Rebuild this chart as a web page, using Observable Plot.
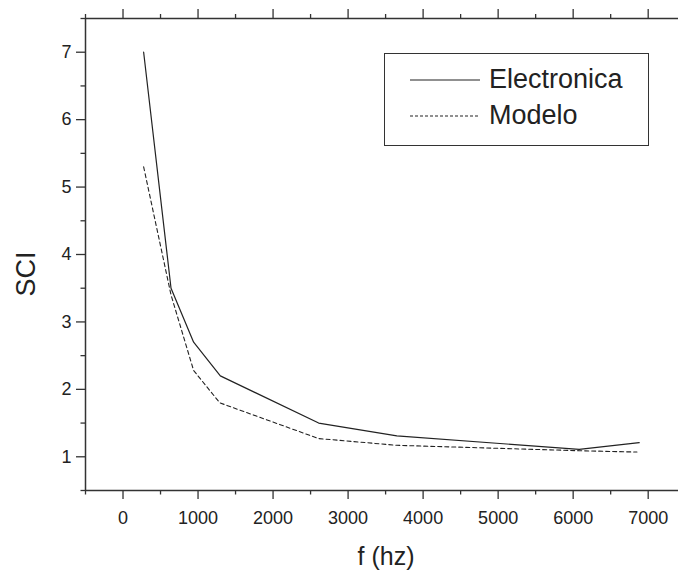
<!DOCTYPE html>
<html>
<head>
<meta charset="utf-8">
<script src="https://cdn.jsdelivr.net/npm/d3@7"></script>
<script src="https://cdn.jsdelivr.net/npm/@observablehq/plot@0.6"></script>
<style>
  html, body { margin: 0; padding: 0; background: #fff; overflow: hidden; }
  #wrap { position: relative; width: 678px; height: 570px; font-family: "Liberation Sans", Arial, Helvetica, sans-serif; }
  #legend { position: absolute; left: 384px; top: 53px; width: 263px; height: 91px; border: 1.5px solid #333; background: #fff; }
  .row { position: absolute; left: 0; display: flex; align-items: center; font-size: 27px; color: #222; }
  .row svg { margin-left: 25px; margin-right: 9px; }
  #ylabel { position: absolute; left: 26px; top: 274px; font-size: 27px; color: #222; line-height: 1; white-space: nowrap;
            transform: translate(-50%, -50%) rotate(-90deg); }
</style>
</head>
<body>
<div id="wrap"></div>
<script>
// ---- data ----
const seriesNames = ["Electronica", "Modelo"];
const freqElectronica = [275, 640, 941, 1297, 2608, 3650, 6080, 6880];
const sciElectronica  = [7.0, 3.5, 2.7, 2.2, 1.5, 1.31, 1.11, 1.21];
const freqModelo = [275, 640, 941, 1290, 2608, 3650, 6080, 6850];
const sciModelo  = [5.3, 3.4, 2.28, 1.8, 1.27, 1.17, 1.09, 1.07];

// ---- axis ticks ----
const xDomain = [-500, 7404];
const yDomain = [0.5, 7.5];
const xMajor = [0, 1000, 2000, 3000, 4000, 5000, 6000, 7000];
const xMinor = [-500, 500, 1500, 2500, 3500, 4500, 5500, 6500];
const yMajor = [1, 2, 3, 4, 5, 6, 7];
const yMinor = [0.5, 1.5, 2.5, 3.5, 4.5, 5.5, 6.5, 7.5];
const xLabel = "f (hz)";
const yLabel = "SCI";

const elec = freqElectronica.map((f, i) => ({f, sci: sciElectronica[i]}));
const mod = freqModelo.map((f, i) => ({f, sci: sciModelo[i]}));

const axisColor = "#333";
const lineColor = "#222";
const blank = () => "";

const chart = Plot.plot({
  width: 678,
  height: 570,
  marginLeft: 85,
  marginRight: 0,
  marginTop: 18,
  marginBottom: 80,
  style: {fontFamily: '"Liberation Sans", Arial, Helvetica, sans-serif', color: "#222", background: "#fff"},
  x: {domain: xDomain, label: null},
  y: {domain: yDomain, label: null},
  marks: [
    // axis lines (left, top, bottom)
    Plot.ruleX([xDomain[0]], {stroke: axisColor, strokeWidth: 1.5}),
    Plot.ruleY([yDomain[0]], {stroke: axisColor, strokeWidth: 1.5}),
    Plot.ruleY([yDomain[1]], {stroke: axisColor, strokeWidth: 1.5}),
    // bottom axis
    Plot.axisX({anchor: "bottom", ticks: xMajor, tickSize: 9, tickPadding: 12, fontSize: 18, stroke: axisColor, strokeWidth: 1.3, label: null, tickFormat: d => String(d)}),
    Plot.axisX({anchor: "bottom", ticks: xMinor, tickSize: 4.5, tickFormat: blank, stroke: axisColor, strokeWidth: 1.3, label: null}),
    // top axis
    Plot.axisX({anchor: "top", ticks: xMajor, tickSize: 10, tickFormat: blank, stroke: axisColor, strokeWidth: 1.3, label: null}),
    Plot.axisX({anchor: "top", ticks: xMinor, tickSize: 5, tickFormat: blank, stroke: axisColor, strokeWidth: 1.3, label: null}),
    // left axis
    Plot.axisY({anchor: "left", ticks: yMajor, tickSize: 9, tickPadding: 5, fontSize: 18, stroke: axisColor, strokeWidth: 1.3, label: null, tickFormat: d => String(d)}),
    Plot.axisY({anchor: "left", ticks: yMinor, tickSize: 4.5, tickFormat: blank, stroke: axisColor, strokeWidth: 1.3, label: null}),
    // data
    Plot.line(elec, {x: "f", y: "sci", stroke: lineColor, strokeWidth: 1.2}),
    Plot.line(mod, {x: "f", y: "sci", stroke: lineColor, strokeWidth: 1.1, strokeDasharray: "4,3"}),
    // x axis title
    Plot.text([xLabel], {frameAnchor: "bottom", lineAnchor: "middle", dx: 4, dy: 66, fontSize: 25, fill: "#222"})
  ]
});

const wrap = document.getElementById("wrap");
wrap.appendChild(chart);

// y axis title
const yl = document.createElement("div");
yl.id = "ylabel";
yl.textContent = yLabel;
wrap.appendChild(yl);

// legend
const legend = document.createElement("div");
legend.id = "legend";
const dashes = ["", "3,2"];
seriesNames.forEach((name, i) => {
  const row = document.createElement("div");
  row.className = "row";
  row.style.top = (i === 0 ? 10 : 46) + "px";
  row.innerHTML = `<svg width="70" height="30"><line x1="0" x2="70" y1="15" y2="15" stroke="${lineColor}" stroke-width="1.1" ${dashes[i] ? `stroke-dasharray="${dashes[i]}"` : ""}/></svg><span>${name}</span>`;
  legend.appendChild(row);
});
wrap.appendChild(legend);
</script>
</body>
</html>
